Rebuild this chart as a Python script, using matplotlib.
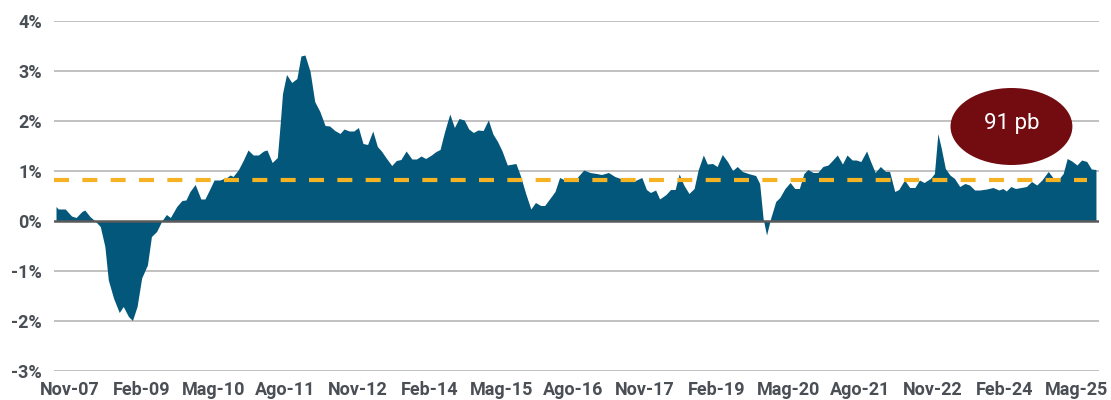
import matplotlib as mpl
mpl.use("Agg")
import matplotlib.pyplot as plt
from matplotlib.patches import Ellipse

# spread series (in %), x as decimal years
years = [2007.59, 2007.63, 2007.75, 2007.86, 2007.94, 2008.04, 2008.09, 2008.18, 2008.27, 2008.36,
         2008.44, 2008.50, 2008.59, 2008.69, 2008.76, 2008.85, 2008.92, 2009.00, 2009.08, 2009.18,
         2009.25, 2009.34, 2009.43, 2009.51, 2009.58, 2009.69, 2009.78, 2009.85, 2009.92, 2010.01,
         2010.11, 2010.18, 2010.27, 2010.34, 2010.44, 2010.56, 2010.62, 2010.67, 2010.76, 2010.85,
         2010.93, 2011.02, 2011.11, 2011.20, 2011.26, 2011.35, 2011.44, 2011.49, 2011.53, 2011.60,
         2011.69, 2011.78, 2011.85, 2011.92, 2012.01, 2012.09, 2012.18, 2012.27, 2012.35, 2012.44,
         2012.53, 2012.60, 2012.69, 2012.77, 2012.85, 2012.93, 2013.01, 2013.10, 2013.18, 2013.25,
         2013.34, 2013.43, 2013.51, 2013.59, 2013.68, 2013.78, 2013.86, 2013.94, 2014.02, 2014.12,
         2014.20, 2014.27, 2014.35, 2014.44, 2014.52, 2014.60, 2014.69, 2014.77, 2014.85, 2014.93,
         2015.02, 2015.11, 2015.19, 2015.27, 2015.35, 2015.44, 2015.59, 2015.67, 2015.76, 2015.85,
         2015.93, 2016.02, 2016.09, 2016.18, 2016.27, 2016.35, 2016.44, 2016.64, 2016.77, 2016.88,
         2016.99, 2017.08, 2017.20, 2017.31, 2017.46, 2017.63, 2017.78, 2017.86, 2017.93, 2018.02,
         2018.09, 2018.20, 2018.28, 2018.36, 2018.43, 2018.51, 2018.60, 2018.69, 2018.76, 2018.85,
         2018.92, 2019.01, 2019.09, 2019.18, 2019.27, 2019.36, 2019.44, 2019.53, 2019.66, 2019.76,
         2019.83, 2019.89, 2019.95, 2020.02, 2020.11, 2020.18, 2020.27, 2020.36, 2020.44, 2020.52,
         2020.60, 2020.67, 2020.76, 2020.84, 2020.93, 2021.02, 2021.11, 2021.18, 2021.27, 2021.35,
         2021.44, 2021.51, 2021.59, 2021.69, 2021.76, 2021.84, 2021.93, 2022.02, 2022.09, 2022.18,
         2022.25, 2022.35, 2022.44, 2022.53, 2022.61, 2022.69, 2022.80, 2022.87, 2022.93, 2022.99,
         2023.06, 2023.14, 2023.22, 2023.31, 2023.40, 2023.48, 2023.57, 2023.66, 2023.78, 2023.89,
         2023.99, 2024.06, 2024.12, 2024.20, 2024.28, 2024.38, 2024.47, 2024.56, 2024.65, 2024.74,
         2024.85, 2024.93, 2025.02, 2025.11, 2025.18, 2025.26, 2025.35, 2025.43, 2025.52, 2025.60,
         2025.68]
spread = [0.29, 0.24, 0.24, 0.10, 0.07, 0.19, 0.22, 0.09, 0.00, -0.11,
          -0.51, -1.18, -1.54, -1.83, -1.71, -1.91, -1.99, -1.71, -1.14, -0.88,
          -0.31, -0.21, 0.00, 0.13, 0.07, 0.29, 0.41, 0.42, 0.59, 0.73,
          0.44, 0.44, 0.65, 0.82, 0.82, 0.87, 0.92, 0.89, 1.02, 1.22,
          1.42, 1.32, 1.32, 1.40, 1.42, 1.17, 1.27, 1.95, 2.55, 2.93,
          2.77, 2.85, 3.30, 3.32, 2.99, 2.39, 2.19, 1.91, 1.90, 1.81,
          1.75, 1.84, 1.80, 1.80, 1.87, 1.55, 1.53, 1.80, 1.49, 1.40,
          1.25, 1.11, 1.21, 1.23, 1.40, 1.24, 1.24, 1.30, 1.25, 1.32,
          1.39, 1.43, 1.79, 2.14, 1.87, 2.05, 2.02, 1.84, 1.77, 1.82,
          1.81, 2.02, 1.74, 1.59, 1.40, 1.12, 1.15, 0.90, 0.55, 0.24,
          0.37, 0.31, 0.31, 0.45, 0.59, 0.87, 0.82, 0.85, 1.02, 0.97,
          0.95, 0.93, 0.97, 0.89, 0.83, 0.79, 0.87, 0.63, 0.57, 0.62,
          0.44, 0.53, 0.63, 0.63, 0.94, 0.72, 0.55, 0.65, 1.02, 1.32,
          1.14, 1.15, 1.09, 1.33, 1.19, 1.01, 1.09, 0.99, 0.94, 0.91,
          0.75, 0.05, -0.28, 0.05, 0.39, 0.47, 0.65, 0.77, 0.65, 0.65,
          0.95, 1.03, 0.97, 0.97, 1.09, 1.12, 1.23, 1.32, 1.14, 1.32,
          1.22, 1.22, 1.19, 1.40, 1.19, 0.97, 1.09, 0.99, 0.99, 0.59,
          0.63, 0.82, 0.67, 0.67, 0.82, 0.77, 0.85, 0.95, 1.75, 1.45,
          1.05, 0.92, 0.85, 0.69, 0.75, 0.72, 0.62, 0.62, 0.64, 0.67,
          0.62, 0.65, 0.60, 0.69, 0.65, 0.67, 0.69, 0.79, 0.72, 0.82,
          0.99, 0.87, 0.82, 0.95, 1.25, 1.20, 1.12, 1.22, 1.19, 1.04,
          1.03]

avg_spread = 0.82
avg_span = [2007.555, 2025.53]
tick_years = [2007.833, 2009.083, 2010.333, 2011.583, 2012.833, 2014.083, 2015.333, 2016.583,
              2017.833, 2019.083, 2020.333, 2021.583, 2022.833, 2024.083, 2025.333]
tick_labels = ["Nov-07", "Feb-09", "Mag-10", "Ago-11", "Nov-12", "Feb-14", "Mag-15", "Ago-16",
               "Nov-17", "Feb-19", "Mag-20", "Ago-21", "Nov-22", "Feb-24", "Mag-25"]
y_ticks = [-3, -2, -1, 0, 1, 2, 3, 4]
y_labels = ["-3%", "-2%", "-1%", "0%", "1%", "2%", "3%", "4%"]
note = "91 pb"

fig = plt.figure(figsize=(11.11, 4.0), dpi=100, facecolor='w')
ax = fig.add_axes([0.0486, 0.0725, 0.9404, 0.875])

for t in y_ticks:
    if t != 0:
        ax.axhline(t, color='#bcbcbc', linewidth=1.3, zorder=1)

ax.fill_between(years, 0, spread, color='#03577a', linewidth=0, zorder=2)
ax.axhline(0, color='#5a5a5a', linewidth=1.8, zorder=3)
ax.plot(avg_span, [avg_spread, avg_spread], color='#f5b324', linewidth=3.0,
        dashes=(3.6, 3.2), zorder=4)

ax.add_patch(Ellipse((2024.21, 1.89), 2.12, 1.54, facecolor='#730c10', edgecolor='none', zorder=5))
ax.text(2024.21, 1.95, note, color='white', fontsize=16, family='Roboto',
        ha='center', va='center', zorder=6)

ax.set_xlim(2007.555, 2025.729)
ax.set_ylim(-3, 4)
ax.set_xticks(tick_years)
ax.set_xticklabels(tick_labels)
ax.set_yticks(y_ticks)
ax.set_yticklabels(y_labels)
for lab in ax.get_xticklabels() + ax.get_yticklabels():
    lab.set_fontfamily('Roboto')
    lab.set_fontweight('bold')
    lab.set_fontsize(13)
    lab.set_color('#4a4e55')
ax.tick_params(axis='both', length=0)
ax.tick_params(axis='x', pad=7.5)
ax.tick_params(axis='y', pad=8.5)
for s in ax.spines.values():
    s.set_visible(False)

plt.savefig("out.png", dpi=100)
